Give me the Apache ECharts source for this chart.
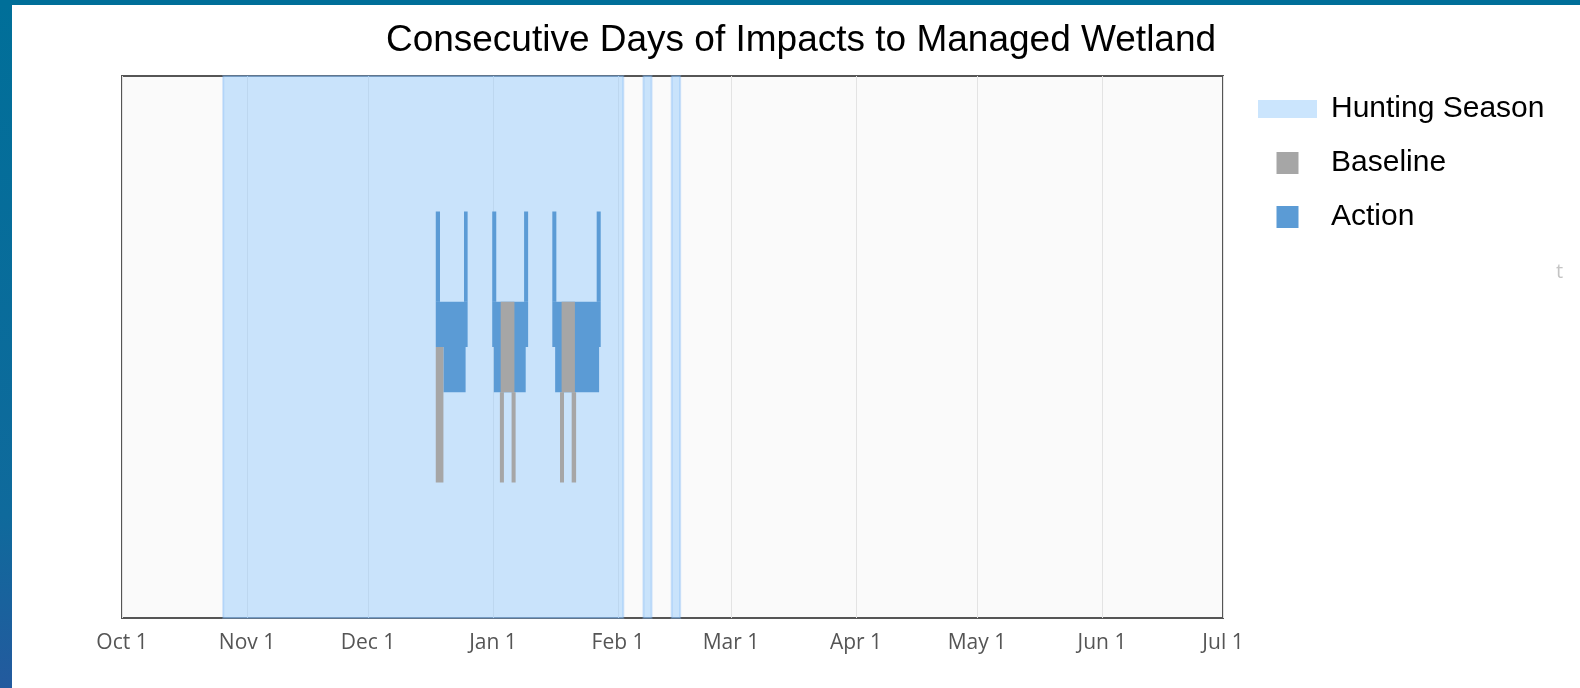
<!DOCTYPE html>
<html>
<head>
<meta charset="utf-8">
<script src="https://cdn.jsdelivr.net/npm/echarts@6/dist/echarts.min.js"></script>
<style>
  html, body { margin: 0; padding: 0; background: #fff; }
  #chart { width: 1580px; height: 688px; }
</style>
</head>
<body>
<div id="chart"></div>
<script>
// x values are days since Oct 1, y values on a 0..12 scale
const tickDays = [0, 31, 61, 92, 123, 151, 182, 212, 243, 273]
const tickLabels = ['Oct 1', 'Nov 1', 'Dec 1', 'Jan 1', 'Feb 1', 'Mar 1', 'Apr 1', 'May 1', 'Jun 1', 'Jul 1']

// hunting season periods [start, end]
const huntingSeason = [
  [25.1, 124.3],
  [129.3, 131.3],
  [136.3, 138.4]
]

// [xStart, xEnd, yLow, yHigh]
const actionBars = [
  [77.8, 78.85, 7, 9], [84.8, 85.7, 7, 9], [77.8, 85.7, 6, 7], [79.7, 85.2, 5, 6],
  [91.8, 92.8, 7, 9], [99.7, 100.7, 7, 9], [91.8, 100.7, 6, 7], [92.2, 100.1, 5, 6],
  [106.7, 107.7, 7, 9], [117.7, 118.7, 7, 9], [106.7, 118.7, 6, 7], [107.4, 118.3, 5, 6]
]

const baselineBars = [
  [77.8, 79.7, 3, 6],
  [93.9, 97.3, 5, 7], [93.7, 94.7, 3, 5], [96.6, 97.6, 3, 5],
  [109.0, 112.3, 5, 7], [108.6, 109.6, 3, 5], [111.5, 112.6, 3, 5]
]

const Y_MAX = 12

const chart = echarts.init(document.getElementById('chart'))

function rectItem(params, api) {
  const p0 = api.coord([api.value(0), api.value(3)])
  const p1 = api.coord([api.value(1), api.value(2)])
  return {
    type: 'rect',
    shape: { x: p0[0], y: p0[1], width: p1[0] - p0[0], height: p1[1] - p0[1] },
    style: { fill: api.visual('color') }
  }
}

function bandItem(params, api) {
  const p0 = api.coord([api.value(0), Y_MAX])
  const p1 = api.coord([api.value(1), 0])
  return {
    type: 'rect',
    shape: { x: p0[0], y: p0[1], width: p1[0] - p0[0], height: p1[1] - p0[1] },
    style: { fill: api.visual('color'), stroke: 'rgba(120,180,245,0.35)', lineWidth: 2 }
  }
}

const option = {
  animation: false,
  graphic: [
    {
      type: 'rect', left: 0, top: 0, z: 100,
      shape: { width: 12, height: 688 },
      style: {
        fill: new echarts.graphic.LinearGradient(0, 0, 0, 1, [
          { offset: 0, color: '#006f99' },
          { offset: 0.75, color: '#0f6a9c' },
          { offset: 1, color: '#235a9e' }
        ])
      }
    },
    {
      type: 'rect', left: 0, top: 0, z: 100,
      shape: { width: 1580, height: 5 },
      style: { fill: '#006f99' }
    },
    {
      type: 'text', x: 801, y: 41,
      style: {
        text: 'Consecutive Days of Impacts to Managed Wetland',
        fontFamily: 'Liberation Sans, Arial, sans-serif',
        fontSize: 37,
        fill: '#000',
        align: 'center',
        verticalAlign: 'middle'
      }
    },
    {
      type: 'text', x: 1556, y: 272,
      style: {
        text: 't',
        fontFamily: 'Open Sans, sans-serif',
        fontSize: 20,
        fill: '#c4c4c4',
        verticalAlign: 'middle'
      }
    }
  ],
  legend: {
    orient: 'vertical',
    left: 1253,
    top: 89,
    itemWidth: 59,
    itemHeight: 22,
    itemGap: 24,
    textStyle: {
      fontFamily: 'Liberation Sans, Arial, sans-serif',
      fontSize: 30,
      color: '#000',
      padding: [0, 0, 0, 9]
    },
    data: [
      { name: 'Hunting Season', icon: 'path://M0,0H59V18H0Z' },
      { name: 'Baseline', icon: 'path://M0,0H1V1H0Z' },
      { name: 'Action', icon: 'path://M0,0H1V1H0Z' }
    ]
  },
  grid: {
    left: 122,
    right: 357,
    top: 76,
    bottom: 70,
    show: true,
    backgroundColor: '#fafafa',
    borderColor: '#555',
    borderWidth: 2
  },
  xAxis: {
    type: 'value',
    min: 0,
    max: 273,
    axisLine: { show: false },
    axisTick: { show: false, customValues: tickDays },
    axisLabel: {
      customValues: tickDays,
      formatter: (v) => tickLabels[tickDays.indexOf(v)],
      fontFamily: 'Open Sans, sans-serif',
      fontSize: 21,
      color: '#555',
      margin: 15
    },
    splitLine: { show: true, lineStyle: { color: '#e3e3e3', width: 1 } }
  },
  yAxis: {
    type: 'value',
    min: 0,
    max: Y_MAX,
    axisLine: { show: false },
    axisTick: { show: false },
    axisLabel: { show: false },
    splitLine: { show: false }
  },
  series: [
    {
      name: 'Hunting Season',
      type: 'custom',
      renderItem: bandItem,
      itemStyle: { color: 'rgba(152,204,252,0.5)' },
      encode: { x: [0, 1] },
      data: huntingSeason
    },
    {
      name: 'Action',
      type: 'custom',
      renderItem: rectItem,
      itemStyle: { color: '#5b9bd5' },
      encode: { x: [0, 1], y: [2, 3] },
      data: actionBars
    },
    {
      name: 'Baseline',
      type: 'custom',
      renderItem: rectItem,
      itemStyle: { color: '#a6a6a6' },
      encode: { x: [0, 1], y: [2, 3] },
      data: baselineBars
    }
  ]
}

chart.setOption(option)
</script>
</body>
</html>
